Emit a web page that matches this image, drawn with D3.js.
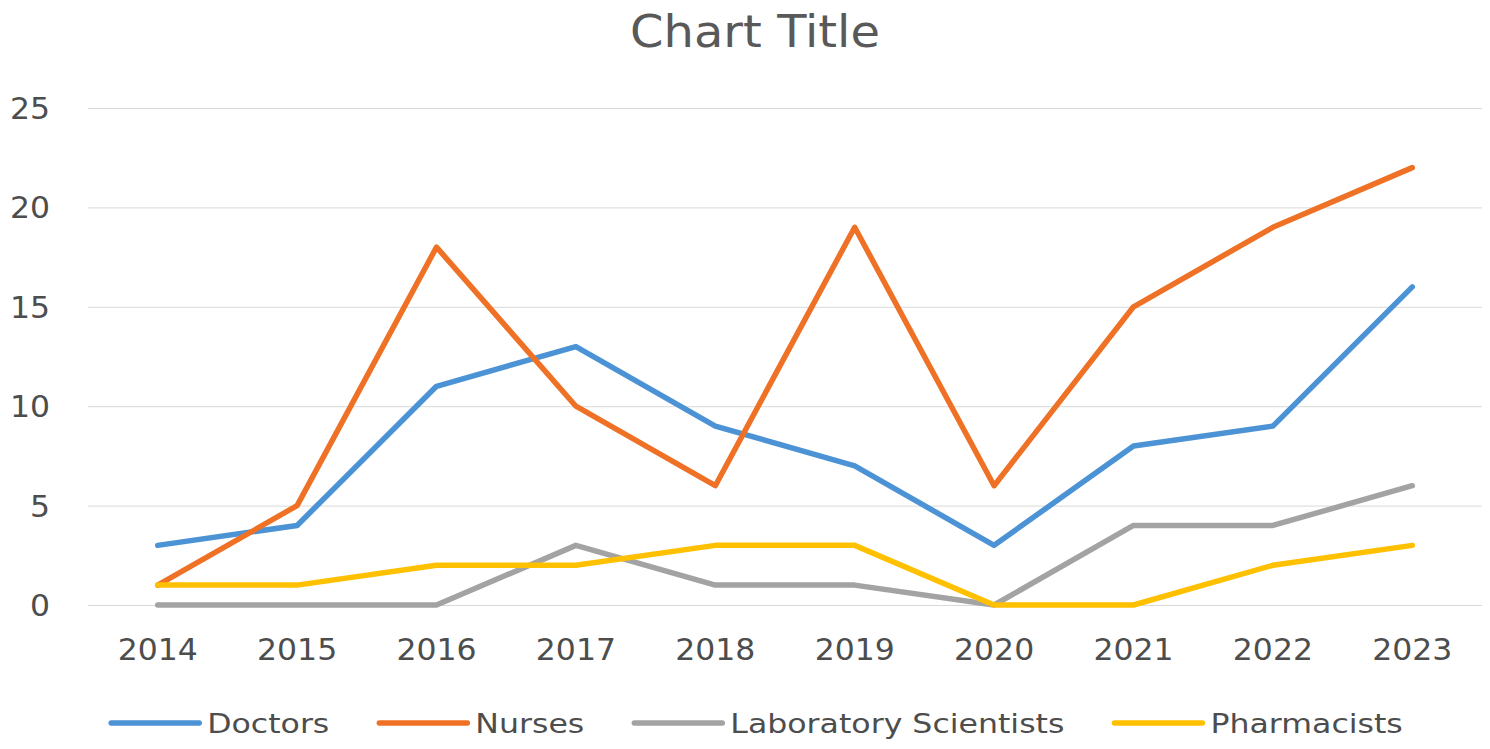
<!DOCTYPE html>
<html><head><meta charset="utf-8">
<script src="https://cdn.jsdelivr.net/npm/d3@7"></script>
<style>body{margin:0;background:#fff}svg{display:block}</style>
</head><body>
<svg id="c" width="1490" height="749"></svg>
<script>
const years = ["2014","2015","2016","2017","2018","2019","2020","2021","2022","2023"];
const doctors = [3,4,11,13,9,7,3,8,9,16];
const nurses = [1,5,18,10,6,19,6,15,19,22];
const labScientists = [0,0,0,3,1,1,0,4,4,6];
const pharmacists = [1,1,2,2,3,3,0,0,2,3];
const yTicks = [0,5,10,15,20,25];
const seriesNames = ["Doctors","Nurses","Laboratory Scientists","Pharmacists"];
const seriesColors = ["#4C93D6","#EF7125","#A3A3A3","#FFC000"];

const series = [doctors, nurses, labScientists, pharmacists].map((v,i)=>({name:seriesNames[i], color:seriesColors[i], values:v}));

const svg = d3.select("#c");
const font = "DejaVu Sans";
const textColor = "#4D4D4D";

const x = d3.scalePoint().domain(years).range([88,1482]).padding(0.5);
const y = d3.scaleLinear().domain([0,25]).range([605,108]);

svg.append("text").attr("transform","translate(755,47) scale(1.09,1)").attr("text-anchor","middle")
  .attr("font-family",font).attr("font-size",44).attr("fill","#595959").text("Chart Title");

// gridlines
svg.append("g").selectAll("line").data(yTicks).join("line")
  .attr("x1",88).attr("x2",1482).attr("y1",d=>y(d)+0.5).attr("y2",d=>y(d)+0.5)
  .attr("stroke","#D9D9D9").attr("stroke-width",1);

// y labels
svg.append("g").selectAll("text").data(yTicks).join("text")
  .attr("transform",d=>`translate(50,${y(d)+11}) scale(1.05,1)`).attr("text-anchor","end")
  .attr("font-family",font).attr("font-size",30).attr("fill",textColor).text(d=>d);

// x labels
svg.append("g").selectAll("text").data(years).join("text")
  .attr("transform",d=>`translate(${x(d)},660) scale(1.05,1)`).attr("text-anchor","middle")
  .attr("font-family",font).attr("font-size",30).attr("fill",textColor).text(d=>d);

const line = d3.line().x((d,i)=>x(years[i])).y(d=>y(d));
svg.append("g").selectAll("path").data(series).join("path")
  .attr("d",d=>line(d.values)).attr("fill","none").attr("stroke",d=>d.color)
  .attr("stroke-width",5.5).attr("stroke-linejoin","round").attr("stroke-linecap","round");

// legend
const lg = svg.append("g");
const sx = 1.17;
let cx = 0;
series.forEach((s,i)=>{
  const g = lg.append("g");
  g.append("line").attr("x1",0).attr("x2",88).attr("y1",0).attr("y2",0)
    .attr("stroke",s.color).attr("stroke-width",5.5).attr("stroke-linecap","round");
  const t = g.append("text").attr("transform",`translate(96,10) scale(${sx},1)`).attr("font-family",font)
    .attr("font-size",27).attr("fill",textColor).text(s.name);
  const w = 96 + t.node().getComputedTextLength()*sx;
  g.attr("transform",`translate(${cx},723)`);
  cx += w + 50;
});
const total = cx - 50;
lg.attr("transform",`translate(${757-total/2},0)`);
</script>
</body></html>
